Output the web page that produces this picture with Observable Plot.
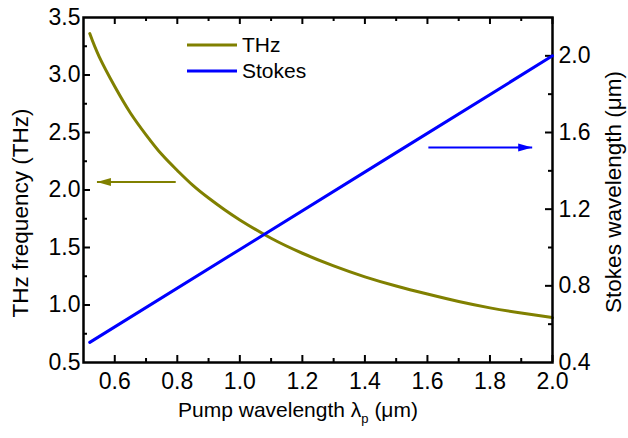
<!DOCTYPE html>
<html>
<head>
<meta charset="utf-8">
<script src="https://cdn.jsdelivr.net/npm/d3@7"></script>
<script src="https://cdn.jsdelivr.net/npm/@observablehq/plot@0.6"></script>
<style>
  html, body { margin: 0; padding: 0; background: white; }
  #chart { position: relative; width: 628px; height: 438px; }
  #chart svg { position: absolute; left: 0; top: 0; }
</style>
</head>
<body>
<div id="chart"></div>
<script>
// ---- data ----
const pumpTHz = [0.52, 0.55, 0.60, 0.65, 0.70, 0.75, 0.80, 0.85, 0.90, 0.95, 1.00, 1.10, 1.20, 1.30, 1.40, 1.50, 1.60, 1.70, 1.80, 1.90, 2.00];
const thzFreq = [3.36, 3.16, 2.90, 2.67, 2.48, 2.31, 2.17, 2.04, 1.93, 1.83, 1.74, 1.58, 1.45, 1.34, 1.245, 1.165, 1.095, 1.03, 0.975, 0.93, 0.89];
const pumpStokes = [0.52, 1.00, 1.50, 2.00];
const stokesWl = [0.505, 0.99, 1.495, 2.00];

const xMajor = [0.6, 0.8, 1.0, 1.2, 1.4, 1.6, 1.8, 2.0];
const xMinor = [0.7, 0.9, 1.1, 1.3, 1.5, 1.7, 1.9];
const yLeftLabels = [0.5, 1.0, 1.5, 2.0, 2.5, 3.0, 3.5];
const yLeftMajor = [1.0, 1.5, 2.0, 2.5, 3.0];
const yLeftMinor = [0.75, 1.25, 1.75, 2.25, 2.75, 3.25];
const yRightLabels = [0.4, 0.8, 1.2, 1.6, 2.0];
const yRightMajor = [0.8, 1.2, 1.6, 2.0];
const yRightMinor = [0.6, 1.0, 1.4, 1.8];

// annotation arrows: [tail x, tip x, y]
const arrowTHz = [0.795, 0.543, 2.07];
const arrowStokes = [1.603, 1.935, 1.522];

const legendNames = ["THz", "Stokes"];
const colors = ["#808000", "#0000ff"];

// ---- layout ----
const W = 628, H = 438;
const M = {top: 17, right: 76, bottom: 76, left: 83};
const PW = W - M.left - M.right, PH = H - M.top - M.bottom;
const font = "'Liberation Sans', Arial, Helvetica, sans-serif";
const fmt = d => d.toFixed(1);
const majLen = 7, minLen = 4;
const tickFont = 23;

const headRight = {draw(c) { c.moveTo(0, 0); c.lineTo(-14, -4); c.lineTo(-14, 4); c.closePath(); }};
const headLeft = {draw(c) { c.moveTo(0, 0); c.lineTo(14, -4); c.lineTo(14, 4); c.closePath(); }};

const thzData = pumpTHz.map((x, i) => ({x, y: thzFreq[i]}));
const stokesData = pumpStokes.map((x, i) => ({x, y: stokesWl[i]}));

const common = {
  width: W, height: H,
  marginTop: M.top, marginRight: M.right, marginBottom: M.bottom, marginLeft: M.left,
  x: {domain: [0.5, 2.0]}
};

const plotA = Plot.plot({
  ...common,
  y: {domain: [0.5, 3.5]},
  style: {fontFamily: font, fontSize: tickFont + "px", color: "black", background: "white"},
  marks: [
    Plot.axisX({ticks: xMajor, tickSize: 0, tickPadding: 10, tickFormat: fmt, label: null, fontSize: tickFont}),
    Plot.axisY({ticks: yLeftLabels, tickSize: 0, tickPadding: 3, tickFormat: fmt, label: null, fontSize: tickFont}),
    // bottom ticks
    Plot.tickX(xMajor, {x: d => d, insetTop: PH - majLen, strokeWidth: 2}),
    Plot.tickX(xMinor, {x: d => d, insetTop: PH - minLen, strokeWidth: 2}),
    // top ticks
    Plot.tickX(xMajor, {x: d => d, insetBottom: PH - majLen, strokeWidth: 2}),
    Plot.tickX(xMinor, {x: d => d, insetBottom: PH - minLen, strokeWidth: 2}),
    // left ticks
    Plot.tickY(yLeftMajor, {y: d => d, insetRight: PW - majLen, strokeWidth: 2}),
    Plot.tickY(yLeftMinor, {y: d => d, insetRight: PW - minLen, strokeWidth: 2}),
    Plot.line(thzData, {x: "x", y: "y", stroke: colors[0], strokeWidth: 3, curve: "natural"}),
    Plot.link([arrowTHz], {x1: d => d[0], x2: d => d[1], y1: d => d[2], y2: d => d[2], stroke: colors[0], strokeWidth: 2}),
    Plot.dot([arrowTHz], {x: d => d[1], y: d => d[2], symbol: headLeft, fill: colors[0], stroke: "none"}),
    Plot.frame({stroke: "black", strokeWidth: 2.5})
  ]
});

const plotB = Plot.plot({
  ...common,
  x: {domain: [0.5, 2.0], axis: null},
  y: {domain: [0.4, 2.2]},
  style: {fontFamily: font, fontSize: tickFont + "px", color: "black", background: "transparent"},
  marks: [
    Plot.axisY({anchor: "right", ticks: yRightLabels, tickSize: 0, tickPadding: 6, tickFormat: fmt, label: null, fontSize: tickFont}),
    Plot.tickY(yRightMajor, {y: d => d, insetLeft: PW - majLen, strokeWidth: 2}),
    Plot.tickY(yRightMinor, {y: d => d, insetLeft: PW - minLen, strokeWidth: 2}),
    Plot.line(stokesData, {x: "x", y: "y", stroke: colors[1], strokeWidth: 3}),
    Plot.link([arrowStokes], {x1: d => d[0], x2: d => d[1], y1: d => d[2], y2: d => d[2], stroke: colors[1], strokeWidth: 2}),
    Plot.dot([arrowStokes], {x: d => d[1], y: d => d[2], symbol: headRight, fill: colors[1], stroke: "none"})
  ]
});

const chart = document.getElementById("chart");
chart.appendChild(plotA);
chart.appendChild(plotB);

// ---- axis titles and legend ----
const sA = d3.select(plotA);
const txt = (sel, size) => sel.attr("font-family", font).attr("font-size", size).attr("fill", "black");

txt(sA.append("text"), 22.5)
  .attr("transform", "translate(28,213) rotate(-90)")
  .attr("text-anchor", "middle")
  .text("THz frequency (THz)");

const sB = d3.select(plotB);
txt(sB.append("text"), 22.5)
  .attr("transform", "translate(621,192) rotate(-90)")
  .attr("text-anchor", "middle")
  .text("Stokes wavelength (\u03bcm)");

const xt = txt(sA.append("text"), 21)
  .attr("x", 298).attr("y", 417)
  .attr("text-anchor", "middle");
xt.append("tspan").text("Pump wavelength \u03bb");
xt.append("tspan").attr("font-size", 13).attr("dy", 6).text("p");
xt.append("tspan").attr("dy", -6).text(" (\u03bcm)");

const lg = sA.append("g");
legendNames.forEach((name, i) => {
  const y = 45 + i * 26;
  lg.append("line").attr("x1", 187).attr("x2", 237).attr("y1", y).attr("y2", y)
    .attr("stroke", colors[i]).attr("stroke-width", 3);
  txt(lg.append("text"), 21).attr("text-anchor", "start").attr("x", 242).attr("y", y + 7).text(name);
});
</script>
</body>
</html>
